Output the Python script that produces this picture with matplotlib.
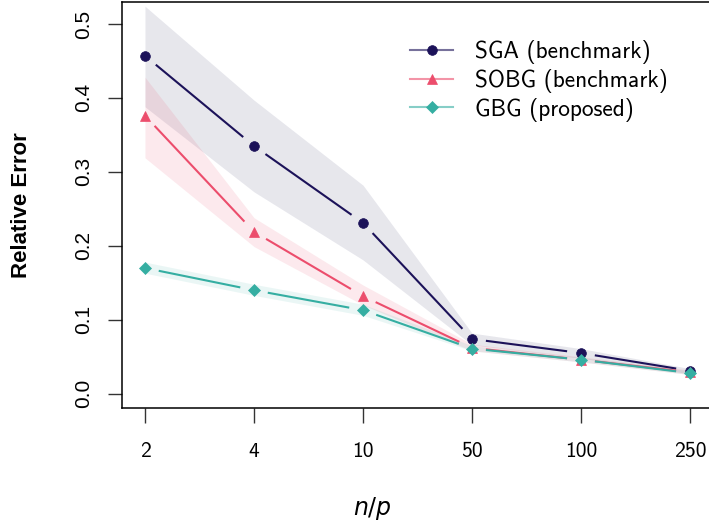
import numpy as np
import matplotlib
matplotlib.use("Agg")
import matplotlib.pyplot as plt
import matplotlib.colors as mcolors
from matplotlib.lines import Line2D

categories = ['2', '4', '10', '50', '100', '250']
sga_mean = [0.457, 0.335, 0.231, 0.074, 0.055, 0.031]
sga_lo = [0.388, 0.273, 0.181, 0.066, 0.048, 0.027]
sga_hi = [0.524, 0.397, 0.282, 0.082, 0.061, 0.034]
sobg_mean = [0.376, 0.219, 0.132, 0.062, 0.046, 0.029]
sobg_lo = [0.319, 0.199, 0.120, 0.058, 0.043, 0.026]
sobg_hi = [0.428, 0.238, 0.147, 0.067, 0.050, 0.032]
gbg_mean = [0.170, 0.140, 0.113, 0.061, 0.046, 0.028]
gbg_lo = [0.163, 0.133, 0.106, 0.058, 0.043, 0.026]
gbg_hi = [0.178, 0.148, 0.121, 0.065, 0.049, 0.031]
labels = ['SGA (benchmark)', 'SOBG (benchmark)', 'GBG (proposed)']
yticks = [0.0, 0.1, 0.2, 0.3, 0.4, 0.5]

colors = ['#1c1259', '#ec4d6c', '#35aea2']
band_colors = ['#6a6a8e', '#ec4d6c', '#35aea2']
band_alpha = [0.16, 0.12, 0.10]
markers = ['o', '^', 'D']
msizes = [7.0, 7.5, 6.0]

plt.rcParams['mathtext.fontset'] = 'dejavusans'

W, H = 709, 520
fig = plt.figure(figsize=(W / 100, H / 100), dpi=100)
ax = fig.add_axes([122 / W, (H - 408) / H, (713 - 122) / W, (408 - 2) / H])

x = np.arange(1, len(categories) + 1)
ax.set_xlim(1 - 23 / 109, 6 + 23 / 109)
ax.set_ylim(-0.0193, 0.5297)

series = [(sga_mean, sga_lo, sga_hi), (sobg_mean, sobg_lo, sobg_hi), (gbg_mean, gbg_lo, gbg_hi)]
for (m, lo, hi), c, a in zip(series, band_colors, band_alpha):
    ax.fill_between(x, lo, hi, color=c, alpha=a, lw=0, zorder=1)

gap = 14.0
fig.canvas.draw()
trans = ax.transData
inv = trans.inverted()
for (m, lo, hi), c, mk, ms in zip(series, colors, markers, msizes):
    pts = trans.transform(np.column_stack([x, m]))
    for i in range(len(pts) - 1):
        p0, p1 = pts[i], pts[i + 1]
        d = p1 - p0
        L = np.hypot(*d)
        if L <= 2 * gap:
            continue
        u = d / L
        q0 = inv.transform(p0 + u * gap)
        q1 = inv.transform(p1 - u * gap)
        ax.plot([q0[0], q1[0]], [q0[1], q1[1]], color=c, lw=1.5,
                solid_capstyle='butt', zorder=2)
    ax.plot(x, m, linestyle='none', marker=mk, ms=ms, color=c, mec=c, mew=0.5, zorder=3)

ax.set_xticks(x)
ax.set_xticklabels(categories, family='cmss10', fontsize=15.5)
ax.set_yticks(yticks)
ax.set_yticklabels(['%.1f' % v for v in yticks], family='Liberation Sans', fontsize=15,
                   rotation=90, va='center')
ax.tick_params(axis='x', length=10.8, width=1, pad=14, color='#333333')
ax.tick_params(axis='y', length=10, width=1, pad=11, color='#333333')
for s in ax.spines.values():
    s.set_linewidth(1.1)
    s.set_color('black')

handles = []
for c, mk, ms in zip(colors, markers, msizes):
    rgb = mcolors.to_rgb(c)
    handles.append(Line2D([0], [0], color=(*rgb, 0.6), lw=1.5, marker=mk, ms=ms,
                          mfc=c, mec=c, mew=0.5))
fs_leg = 16.8
em = fs_leg * 100 / 72
leg = ax.legend(handles, labels, loc='upper left',
                bbox_to_anchor=(410 / W, 1 - (52 - em / 2) / H),
                bbox_transform=fig.transFigure, frameon=False, borderpad=0, borderaxespad=0,
                handlelength=43 / em, handletextpad=22 / em, labelspacing=(28 - em) / em,
                prop={'family': 'cmss10', 'size': fs_leg})

fig.text(22 / W, 1 - 205 / H, 'Relative Error', rotation=90, ha='center', va='center',
         family='Liberation Sans', fontweight='bold', fontsize=16)
fig.text(372 / W, 1 - 508 / H, '$n/p$', ha='center', va='center', fontsize=17)

fig.savefig('out.png', dpi=100)
